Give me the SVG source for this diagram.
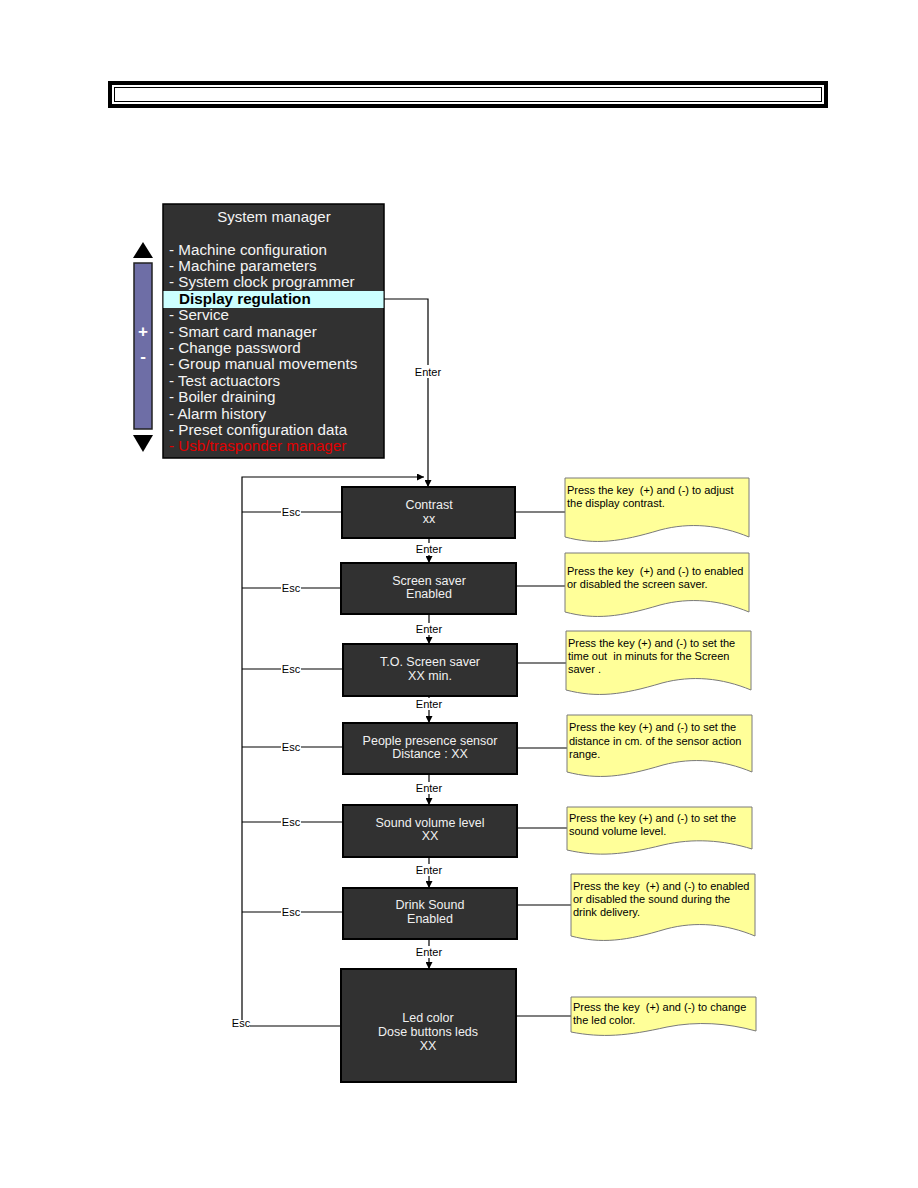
<svg xmlns="http://www.w3.org/2000/svg" width="918" height="1188" viewBox="0 0 918 1188">
<defs>
<style>
.box{fill:#313131;stroke:#000;stroke-width:2}
.bt{font-family:"Liberation Sans",Arial,sans-serif;font-size:12.5px;fill:#f0f0f0;text-anchor:middle}
.mt{font-family:"Liberation Sans",Arial,sans-serif;font-size:15.2px;fill:#f4f4f4}
.note{fill:#ffff99;stroke:#7a7a7a;stroke-width:1}
.nt{font-family:"Liberation Sans",Arial,sans-serif;font-size:11px;fill:#000;white-space:pre}
.lbl{font-family:"Liberation Sans",Arial,sans-serif;font-size:11px;fill:#000;text-anchor:middle}
.ln{stroke:#000;stroke-width:1.2;fill:none}
.bg{fill:#fff}
</style>
<marker id="ah" viewBox="0 0 10 10" refX="10" refY="5" markerWidth="7" markerHeight="7" orient="auto" markerUnits="userSpaceOnUse"><path d="M0,0L10,5L0,10z" fill="#000"/></marker>
</defs>
<rect width="918" height="1188" fill="#fff"/>

<g id="header">
<rect x="110" y="83" width="716" height="23" fill="none" stroke="#000" stroke-width="4"/>
<rect x="114.5" y="87.5" width="707" height="14" fill="none" stroke="#000" stroke-width="1"/>
</g>

<g id="scrollbar">
<path d="M133,258L143,242L153,258z" fill="#000"/>
<rect x="134" y="263" width="18" height="166" fill="#6e6ea6" stroke="#222" stroke-width="1.5"/>
<text x="143" y="337" font-family="Liberation Sans,Arial,sans-serif" font-size="17" font-weight="bold" fill="#fff" text-anchor="middle">+</text>
<text x="143" y="362" font-family="Liberation Sans,Arial,sans-serif" font-size="17" font-weight="bold" fill="#fff" text-anchor="middle">-</text>
<path d="M133,435L143,452L153,435z" fill="#000"/>
</g>

<g id="menu">
<rect x="163" y="204" width="221" height="254" fill="#313131" stroke="#000" stroke-width="1.5"/>
<rect x="163.5" y="291" width="220" height="17" fill="#ccffff"/>
<text x="274" y="222" font-family="Liberation Sans,Arial,sans-serif" font-size="15" fill="#f4f4f4" text-anchor="middle">System manager</text>
<text class="mt" x="169" y="254.5">- Machine configuration</text>
<text class="mt" x="169" y="270.9">- Machine parameters</text>
<text class="mt" x="169" y="287.3">- System clock programmer</text>
<text x="179" y="304" font-family="Liberation Sans,Arial,sans-serif" font-size="15.2" font-weight="bold" fill="#000">Display regulation</text>
<text class="mt" x="169" y="320.1">- Service</text>
<text class="mt" x="169" y="336.5">- Smart card manager</text>
<text class="mt" x="169" y="352.9">- Change password</text>
<text class="mt" x="169" y="369.3">- Group manual movements</text>
<text class="mt" x="169" y="385.7">- Test actuactors</text>
<text class="mt" x="169" y="402.1">- Boiler draining</text>
<text class="mt" x="169" y="418.5">- Alarm history</text>
<text class="mt" x="169" y="434.9">- Preset configuration data</text>
<text class="mt" x="169" y="451.3" style="fill:#e00000">- Usb/trasponder manager</text>
</g>

<g id="connectors">
<path class="ln" d="M384,299H428V487" marker-end="url(#ah)"/>
<rect class="bg" x="413" y="365" width="30" height="13"/>
<text class="lbl" x="428" y="376">Enter</text>
<path class="ln" d="M242,1020V477H424" marker-end="url(#ah)"/>
<path class="ln" d="M429,538V563" marker-end="url(#ah)"/>
<path class="ln" d="M429,614V644" marker-end="url(#ah)"/>
<path class="ln" d="M429,696V723" marker-end="url(#ah)"/>
<path class="ln" d="M429,774V805" marker-end="url(#ah)"/>
<path class="ln" d="M429,857V888" marker-end="url(#ah)"/>
<path class="ln" d="M429,939V969" marker-end="url(#ah)"/>
<g>
<rect class="bg" x="414" y="543" width="30" height="12"/><text class="lbl" x="429" y="553">Enter</text>
<rect class="bg" x="414" y="623" width="30" height="12"/><text class="lbl" x="429" y="633">Enter</text>
<rect class="bg" x="414" y="698" width="30" height="12"/><text class="lbl" x="429" y="708">Enter</text>
<rect class="bg" x="414" y="782" width="30" height="12"/><text class="lbl" x="429" y="792">Enter</text>
<rect class="bg" x="414" y="864" width="30" height="12"/><text class="lbl" x="429" y="874">Enter</text>
<rect class="bg" x="414" y="946" width="30" height="12"/><text class="lbl" x="429" y="956">Enter</text>
</g>
<path class="ln" d="M242,512H342M242,588H341M242,669H343M242,747H343M242,822H343M242,912H343M250,1026H341"/>
<g>
<rect class="bg" x="281" y="506" width="20" height="12"/><text class="lbl" x="291" y="516">Esc</text>
<rect class="bg" x="281" y="582" width="20" height="12"/><text class="lbl" x="291" y="592">Esc</text>
<rect class="bg" x="281" y="663" width="20" height="12"/><text class="lbl" x="291" y="673">Esc</text>
<rect class="bg" x="281" y="741" width="20" height="12"/><text class="lbl" x="291" y="751">Esc</text>
<rect class="bg" x="281" y="816" width="20" height="12"/><text class="lbl" x="291" y="826">Esc</text>
<rect class="bg" x="281" y="906" width="20" height="12"/><text class="lbl" x="291" y="916">Esc</text>
<text class="lbl" x="241" y="1027">Esc</text>
</g>
<path class="ln" stroke-width="1" d="M516,512H565M517,586H565M517,663H566M517,748H567M517,828H567M517,905H571M516,1016H571"/>
</g>

<g id="n-contrast"><rect class="box" x="342" y="487" width="173" height="51"/><text class="bt" x="429" y="509">Contrast</text><text class="bt" x="429" y="523">xx</text></g>
<g id="n-screensaver"><rect class="box" x="341" y="563" width="175" height="51"/><text class="bt" x="429" y="585">Screen saver</text><text class="bt" x="429" y="598">Enabled</text></g>
<g id="n-toscreensaver"><rect class="box" x="343" y="644" width="174" height="52"/><text class="bt" x="430" y="666">T.O. Screen saver</text><text class="bt" x="430" y="680">XX min.</text></g>
<g id="n-people"><rect class="box" x="343" y="723" width="174" height="51"/><text class="bt" x="430" y="745">People presence sensor</text><text class="bt" x="430" y="758">Distance : XX</text></g>
<g id="n-sound"><rect class="box" x="343" y="805" width="174" height="52"/><text class="bt" x="430" y="827">Sound volume level</text><text class="bt" x="430" y="840">XX</text></g>
<g id="n-drink"><rect class="box" x="343" y="888" width="174" height="51"/><text class="bt" x="430" y="909">Drink Sound</text><text class="bt" x="430" y="923">Enabled</text></g>
<g id="n-led"><rect class="box" x="341" y="969" width="175" height="113"/><text class="bt" x="428" y="1022">Led color</text><text class="bt" x="428" y="1036">Dose buttons leds</text><text class="bt" x="428" y="1050">XX</text></g>

<g id="note-contrast"><path class="note" d="M565,478H749V537C720,525 690,522 660,530C620,542 595,545 565,537Z"/><text class="nt" x="567" y="494">Press the key  (+) and (-) to adjust</text><text class="nt" x="567" y="507">the display contrast.</text></g>
<g id="note-screensaver"><path class="note" d="M565,553H749V612C720,600 690,597 660,605C620,617 595,620 565,612Z"/><text class="nt" x="567" y="575">Press the key  (+) and (-) to enabled</text><text class="nt" x="567" y="588">or disabled the screen saver.</text></g>
<g id="note-to"><path class="note" d="M566,631H751V690C722,678 692,675 662,683C622,695 597,698 566,690Z"/><text class="nt" x="568" y="647">Press the key (+) and (-) to set the</text><text class="nt" x="568" y="660">time out  in minuts for the Screen</text><text class="nt" x="568" y="673">saver .</text></g>
<g id="note-people"><path class="note" d="M567,715H752V772C723,760 693,757 663,765C623,777 598,780 567,772Z"/><text class="nt" x="569" y="731">Press the key (+) and (-) to set the</text><text class="nt" x="569" y="745">distance in cm. of the sensor action</text><text class="nt" x="569" y="758">range.</text></g>
<g id="note-sound"><path class="note" d="M567,807H752V849C723,840 693,838 663,845C623,855 598,857 567,850Z"/><text class="nt" x="569" y="822">Press the key (+) and (-) to set the</text><text class="nt" x="569" y="835">sound volume level.</text></g>
<g id="note-drink"><path class="note" d="M571,874H755V936C726,924 696,921 666,929C626,941 601,944 571,936Z"/><text class="nt" x="573" y="890">Press the key  (+) and (-) to enabled</text><text class="nt" x="573" y="903">or disabled the sound during the</text><text class="nt" x="573" y="916">drink delivery.</text></g>
<g id="note-led"><path class="note" d="M571,997H756V1031C727,1023 697,1021 667,1027C627,1036 602,1038 571,1032Z"/><text class="nt" x="573" y="1011">Press the key  (+) and (-) to change</text><text class="nt" x="573" y="1024">the led color.</text></g>
</svg>
